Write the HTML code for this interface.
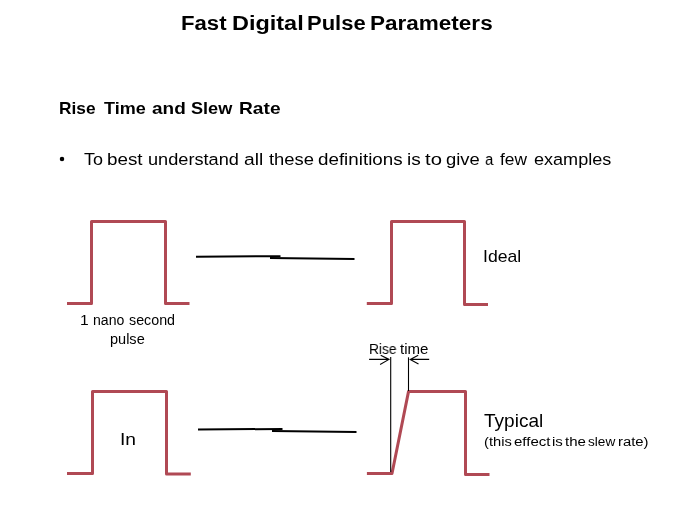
<!DOCTYPE html>
<html><head><meta charset="utf-8"><style>
html,body{margin:0;padding:0;background:#fff;}
body{width:674px;height:506px;position:relative;overflow:hidden;font-family:"Liberation Sans",sans-serif;color:#000;}
.t{position:absolute;white-space:nowrap;transform-origin:0 0;will-change:transform;}
</style></head><body>
<svg width="674" height="506" style="position:absolute;left:0;top:0">
<g fill="none" stroke="#B04954" stroke-width="3" stroke-linejoin="round" stroke-linecap="butt">
<path d="M67,303.5 H91.5 V221.5 H165.5 V303.5 H189.5"/>
<path d="M366.8,303.5 H391.5 V221.5 H464.5 V304.5 H488"/>
<path d="M67,473.5 H92.5 V391.5 H166.5 V474 H190.8"/>
<path d="M366.9,473.5 H392 L408.5,391.6 H465.5 V474.5 H489.5"/>
</g>
<g fill="none" stroke="#000" stroke-width="2" stroke-linecap="butt">
<path d="M196,256.7 L280.5,256.2"/>
<path d="M270,258.1 L354.5,259.0"/>
<path d="M198,429.6 L282.5,428.9"/>
<path d="M272,431.1 L356.5,432.0"/>
</g>
<g fill="none" stroke="#000" stroke-width="1.1">
<path d="M390.7,357 V472"/>
<path d="M408.5,357.3 V391"/>
<path d="M369.1,359.4 H389 M380.7,355.2 L389,359.4 L380.1,364.4"/>
<path d="M429.2,359.4 H410.2 M418.2,355.2 L410.2,359.4 L418.5,364.1"/>
</g>
<circle cx="62" cy="158.9" r="2.25" fill="#000"/>
</svg>
<div class="t" style="left:180.85px;top:13.45px;font-size:20.3px;line-height:20.3px;font-weight:bold;transform:scaleX(1.093)">Fast</div>
<div class="t" style="left:231.86px;top:13.45px;font-size:20.3px;line-height:20.3px;font-weight:bold;transform:scaleX(1.156)">Digital</div>
<div class="t" style="left:307.36px;top:13.45px;font-size:20.3px;line-height:20.3px;font-weight:bold;transform:scaleX(1.085)">Pulse</div>
<div class="t" style="left:370.42px;top:13.45px;font-size:20.3px;line-height:20.3px;font-weight:bold;transform:scaleX(1.110)">Parameters</div>
<div class="t" style="left:59.24px;top:100.27px;font-size:17.1px;line-height:17.1px;font-weight:bold;transform:scaleX(1.011)">Rise</div>
<div class="t" style="left:103.92px;top:100.27px;font-size:17.1px;line-height:17.1px;font-weight:bold;transform:scaleX(1.054)">Time</div>
<div class="t" style="left:151.93px;top:100.27px;font-size:17.1px;line-height:17.1px;font-weight:bold;transform:scaleX(1.110)">and</div>
<div class="t" style="left:190.66px;top:100.27px;font-size:17.1px;line-height:17.1px;font-weight:bold;transform:scaleX(1.060)">Slew</div>
<div class="t" style="left:239.16px;top:100.27px;font-size:17.1px;line-height:17.1px;font-weight:bold;transform:scaleX(1.121)">Rate</div>
<div class="t" style="left:83.84px;top:151.28px;font-size:17.2px;line-height:17.2px;font-weight:normal;transform:scaleX(1.045)">To</div>
<div class="t" style="left:106.88px;top:151.28px;font-size:17.2px;line-height:17.2px;font-weight:normal;transform:scaleX(1.095)">best</div>
<div class="t" style="left:147.73px;top:151.28px;font-size:17.2px;line-height:17.2px;font-weight:normal;transform:scaleX(1.057)">understand</div>
<div class="t" style="left:243.83px;top:151.28px;font-size:17.2px;line-height:17.2px;font-weight:normal;transform:scaleX(1.117)">all</div>
<div class="t" style="left:268.73px;top:151.28px;font-size:17.2px;line-height:17.2px;font-weight:normal;transform:scaleX(1.070)">these</div>
<div class="t" style="left:318.05px;top:151.28px;font-size:17.2px;line-height:17.2px;font-weight:normal;transform:scaleX(1.093)">definitions</div>
<div class="t" style="left:406.87px;top:151.28px;font-size:17.2px;line-height:17.2px;font-weight:normal;transform:scaleX(1.107)">is</div>
<div class="t" style="left:425.19px;top:151.28px;font-size:17.2px;line-height:17.2px;font-weight:normal;transform:scaleX(1.178)">to</div>
<div class="t" style="left:445.86px;top:151.28px;font-size:17.2px;line-height:17.2px;font-weight:normal;transform:scaleX(1.070)">give</div>
<div class="t" style="left:485.21px;top:151.28px;font-size:17.2px;line-height:17.2px;font-weight:normal;transform:scaleX(0.861)">a</div>
<div class="t" style="left:500.43px;top:151.28px;font-size:17.2px;line-height:17.2px;font-weight:normal;transform:scaleX(1.009)">few</div>
<div class="t" style="left:534.08px;top:151.28px;font-size:17.2px;line-height:17.2px;font-weight:normal;transform:scaleX(1.051)">examples</div>
<div class="t" style="left:80.45px;top:313.00px;font-size:14.0px;line-height:14.0px;font-weight:normal;transform:scaleX(1.113)">1</div>
<div class="t" style="left:92.61px;top:313.00px;font-size:14.0px;line-height:14.0px;font-weight:normal;transform:scaleX(1.005)">nano</div>
<div class="t" style="left:128.77px;top:313.00px;font-size:14.0px;line-height:14.0px;font-weight:normal;transform:scaleX(1.020)">second</div>
<div class="t" style="left:109.98px;top:332.00px;font-size:14.0px;line-height:14.0px;font-weight:normal;transform:scaleX(1.037)">pulse</div>
<div class="t" style="left:120.07px;top:431.35px;font-size:17.0px;line-height:17.0px;font-weight:normal;transform:scaleX(1.133)">In</div>
<div class="t" style="left:483.01px;top:248.05px;font-size:17.0px;line-height:17.0px;font-weight:normal;transform:scaleX(1.036)">Ideal</div>
<div class="t" style="left:369.10px;top:341.70px;font-size:14.0px;line-height:14.0px;font-weight:normal;transform:scaleX(0.980)">Rise</div>
<div class="t" style="left:400.40px;top:341.70px;font-size:14.0px;line-height:14.0px;font-weight:normal;transform:scaleX(1.075)">time</div>
<div class="t" style="left:484.12px;top:412.27px;font-size:18.5px;line-height:18.5px;font-weight:normal;transform:scaleX(1.028)">Typical</div>
<div class="t" style="left:484.22px;top:435.77px;font-size:12.5px;line-height:12.5px;font-weight:normal;transform:scaleX(1.175)">(this</div>
<div class="t" style="left:514.40px;top:435.77px;font-size:12.5px;line-height:12.5px;font-weight:normal;transform:scaleX(1.203)">effect</div>
<div class="t" style="left:551.75px;top:435.77px;font-size:12.5px;line-height:12.5px;font-weight:normal;transform:scaleX(1.200)">is</div>
<div class="t" style="left:565.30px;top:435.77px;font-size:12.5px;line-height:12.5px;font-weight:normal;transform:scaleX(1.203)">the</div>
<div class="t" style="left:588.19px;top:435.77px;font-size:12.5px;line-height:12.5px;font-weight:normal;transform:scaleX(1.088)">slew</div>
<div class="t" style="left:618.46px;top:435.77px;font-size:12.5px;line-height:12.5px;font-weight:normal;transform:scaleX(1.188)">rate)</div>
</body></html>
